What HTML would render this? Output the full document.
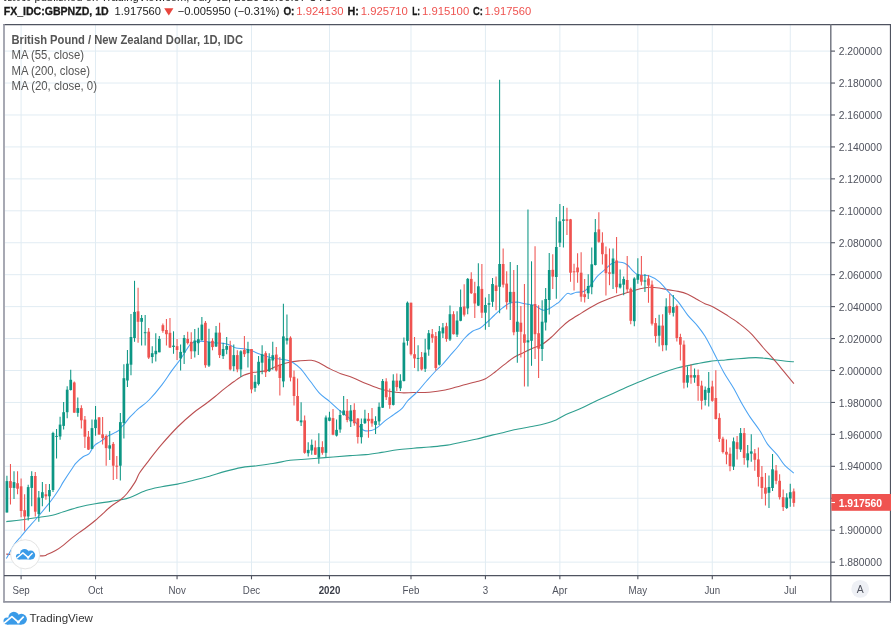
<!DOCTYPE html>
<html><head><meta charset="utf-8"><title>GBPNZD chart</title>
<style>
html,body{margin:0;padding:0;background:#fff;}
body{width:891px;height:630px;overflow:hidden;position:relative;font-family:"Liberation Sans",sans-serif;}
svg{position:absolute;left:0;top:0;}
text{font-family:"Liberation Sans",sans-serif;}
</style></head><body>
<svg width="891" height="630" viewBox="0 0 891 630">

<text x="3.5" y="1.2" font-size="11" fill="#222" textLength="27.5" lengthAdjust="spacingAndGlyphs">JLeeCo</text>
<text x="34.6" y="1.2" font-size="11" fill="#222" textLength="297.5" lengthAdjust="spacingAndGlyphs">published on TradingView.com, July 02, 2020 15:00:07 UTC</text>
<g font-size="11">
<text x="3.7" y="15.3" font-weight="bold" stroke="#1a1a1a" stroke-width="0.3" fill="#1a1a1a" textLength="105.0" lengthAdjust="spacingAndGlyphs">FX_IDC:GBPNZD, 1D</text>
<text x="114.5" y="15.3" fill="#1a1a1a" textLength="46.5" lengthAdjust="spacingAndGlyphs">1.917560</text>
<text x="177.8" y="15.3" fill="#1a1a1a" textLength="101.7" lengthAdjust="spacingAndGlyphs">−0.005950 (−0.31%)</text>
<text x="283.4" y="15.3" font-weight="bold" stroke="#1a1a1a" stroke-width="0.3" fill="#1a1a1a" textLength="11.0" lengthAdjust="spacingAndGlyphs">O:</text>
<text x="296.3" y="15.3" fill="#ef5350" textLength="47.2" lengthAdjust="spacingAndGlyphs">1.924130</text>
<text x="347.4" y="15.3" font-weight="bold" stroke="#1a1a1a" stroke-width="0.3" fill="#1a1a1a" textLength="11.4" lengthAdjust="spacingAndGlyphs">H:</text>
<text x="360.8" y="15.3" fill="#ef5350" textLength="47.1" lengthAdjust="spacingAndGlyphs">1.925710</text>
<text x="412.2" y="15.3" font-weight="bold" stroke="#1a1a1a" stroke-width="0.3" fill="#1a1a1a" textLength="7.8" lengthAdjust="spacingAndGlyphs">L:</text>
<text x="422" y="15.3" fill="#ef5350" textLength="47.2" lengthAdjust="spacingAndGlyphs">1.915100</text>
<text x="473.1" y="15.3" font-weight="bold" stroke="#1a1a1a" stroke-width="0.3" fill="#1a1a1a" textLength="9.9" lengthAdjust="spacingAndGlyphs">C:</text>
<text x="484.5" y="15.3" fill="#ef5350" textLength="46.7" lengthAdjust="spacingAndGlyphs">1.917560</text>
<path d="M164.2,8.2 L173.4,8.2 L168.8,15.6 Z" fill="#e8453c"/>
</g>
<g stroke="#e1ecf3" stroke-width="1">
<line x1="21.10" y1="25" x2="21.10" y2="575"/>
<line x1="95.53" y1="25" x2="95.53" y2="575"/>
<line x1="177.06" y1="25" x2="177.06" y2="575"/>
<line x1="251.49" y1="25" x2="251.49" y2="575"/>
<line x1="329.47" y1="25" x2="329.47" y2="575"/>
<line x1="410.99" y1="25" x2="410.99" y2="575"/>
<line x1="485.43" y1="25" x2="485.43" y2="575"/>
<line x1="559.86" y1="25" x2="559.86" y2="575"/>
<line x1="637.84" y1="25" x2="637.84" y2="575"/>
<line x1="712.28" y1="25" x2="712.28" y2="575"/>
<line x1="790.25" y1="25" x2="790.25" y2="575"/>
<line x1="5" y1="51.10" x2="831" y2="51.10"/>
<line x1="5" y1="83.04" x2="831" y2="83.04"/>
<line x1="5" y1="114.98" x2="831" y2="114.98"/>
<line x1="5" y1="146.92" x2="831" y2="146.92"/>
<line x1="5" y1="178.86" x2="831" y2="178.86"/>
<line x1="5" y1="210.80" x2="831" y2="210.80"/>
<line x1="5" y1="242.74" x2="831" y2="242.74"/>
<line x1="5" y1="274.68" x2="831" y2="274.68"/>
<line x1="5" y1="306.62" x2="831" y2="306.62"/>
<line x1="5" y1="338.56" x2="831" y2="338.56"/>
<line x1="5" y1="370.50" x2="831" y2="370.50"/>
<line x1="5" y1="402.44" x2="831" y2="402.44"/>
<line x1="5" y1="434.38" x2="831" y2="434.38"/>
<line x1="5" y1="466.32" x2="831" y2="466.32"/>
<line x1="5" y1="498.26" x2="831" y2="498.26"/>
<line x1="5" y1="530.20" x2="831" y2="530.20"/>
<line x1="5" y1="562.14" x2="831" y2="562.14"/>
</g>
<path d="M6.3,521.6C8.7,521.3 15.0,520.7 20.6,520.0C26.2,519.3 34.4,518.1 39.7,517.3C45.0,516.5 48.4,516.1 52.4,515.2C56.4,514.3 59.0,513.1 63.5,511.7C68.0,510.3 74.1,508.3 79.4,507.0C84.7,505.7 89.9,504.7 95.2,503.8C100.5,502.9 106.8,502.1 111.0,501.4C115.2,500.7 117.4,500.4 120.6,499.8C123.8,499.2 125.8,499.1 130.0,497.5C134.2,495.9 140.6,492.3 145.9,490.5C151.2,488.7 156.4,487.8 161.7,486.7C167.0,485.6 172.3,485.2 177.6,484.1C182.9,483.0 188.2,481.6 193.5,480.3C198.8,479.0 204.1,477.7 209.4,476.2C214.7,474.7 219.9,472.8 225.2,471.4C230.5,470.0 235.8,468.6 241.1,467.6C246.4,466.7 251.7,466.4 257.0,465.7C262.3,465.0 267.4,464.4 272.9,463.5C278.4,462.6 285.4,461.0 290.0,460.3C294.6,459.6 296.8,459.8 300.8,459.5C304.8,459.2 308.7,458.9 314.1,458.5C319.5,458.1 327.2,457.5 333.2,457.0C339.2,456.5 344.6,456.0 350.0,455.6C355.4,455.2 360.6,455.1 365.9,454.6C371.2,454.1 376.4,453.2 381.7,452.4C387.0,451.6 392.3,450.5 397.6,449.8C402.9,449.1 408.2,448.8 413.5,448.3C418.8,447.8 424.1,447.5 429.4,447.0C434.7,446.5 439.9,446.2 445.2,445.4C450.5,444.6 455.8,443.3 461.1,442.2C466.4,441.1 471.7,440.2 477.0,439.0C482.3,437.8 488.3,436.0 492.9,434.9C497.5,433.8 501.1,433.1 504.6,432.3C508.1,431.5 509.3,430.8 514.1,429.8C518.9,428.8 528.1,427.2 533.2,426.2C538.3,425.2 540.8,424.8 544.6,423.7C548.4,422.6 552.5,421.4 556.1,419.9C559.7,418.4 561.7,416.6 566.0,414.6C570.3,412.6 576.4,410.5 581.7,408.1C587.0,405.7 592.3,402.7 597.6,400.2C602.9,397.7 608.2,395.6 613.5,393.2C618.8,390.8 624.1,388.2 629.4,385.9C634.7,383.6 639.9,381.6 645.2,379.5C650.5,377.4 655.8,375.1 661.1,373.2C666.4,371.3 672.6,369.3 677.0,368.0C681.4,366.7 684.3,366.3 687.7,365.6C691.1,364.9 693.6,364.3 697.3,363.6C701.0,362.9 705.3,362.0 710.0,361.4C714.7,360.8 720.7,360.4 725.4,360.0C730.1,359.6 733.0,359.1 738.1,358.7C743.2,358.3 751.2,357.7 755.9,357.6C760.5,357.6 762.6,358.0 766.0,358.4C769.4,358.8 772.8,359.5 776.2,360.0C779.6,360.5 783.3,360.9 786.3,361.2C789.2,361.5 792.6,361.7 793.9,361.8" fill="none" stroke="#2f9f8f" stroke-width="1.1" stroke-linejoin="round"/><path d="M6.3,554.1C12.0,554.4 33.6,555.9 40.5,555.9C47.4,555.9 45.1,555.2 47.6,554.3C50.1,553.4 53.0,552.1 55.6,550.6C58.2,549.1 60.9,547.1 63.5,545.1C66.1,543.1 68.8,540.5 71.4,538.4C74.1,536.3 76.8,534.3 79.4,532.4C82.1,530.5 84.7,528.8 87.3,526.8C89.9,524.8 92.5,522.8 95.2,520.5C97.9,518.2 100.6,515.7 103.2,513.3C105.8,510.9 108.2,508.4 111.1,506.2C114.0,503.9 117.9,501.9 120.6,499.8C123.2,497.7 124.6,496.4 127.0,493.5C129.4,490.6 132.8,485.8 134.9,482.4C137.0,479.0 137.2,476.7 139.5,473.0C141.8,469.3 145.3,465.1 149.0,460.3C152.7,455.5 156.9,449.9 161.7,444.4C166.5,438.8 172.3,432.3 177.6,427.0C182.9,421.7 188.8,416.5 193.5,412.7C198.2,408.9 201.9,406.7 205.5,404.0C209.1,401.3 211.9,399.1 215.1,396.5C218.3,393.9 221.4,391.1 224.6,388.6C227.8,386.1 230.9,383.7 234.1,381.5C237.3,379.3 240.9,376.7 243.7,375.3C246.4,373.9 248.4,373.6 250.6,373.0C252.8,372.4 254.3,372.4 257.0,372.0C259.7,371.6 263.4,371.5 266.6,370.6C269.8,369.7 272.5,367.8 276.0,366.5C279.5,365.2 283.6,363.7 287.4,362.8C291.2,361.9 294.9,361.3 298.9,360.9C302.9,360.5 307.8,359.9 311.3,360.3C314.8,360.7 316.9,361.8 319.9,363.2C322.9,364.6 325.9,366.8 329.4,368.5C332.9,370.2 337.0,372.2 340.8,373.7C344.6,375.2 348.1,375.9 352.3,377.5C356.5,379.1 361.5,381.8 365.9,383.6C370.3,385.4 374.8,387.2 378.9,388.5C383.0,389.8 386.5,390.8 390.3,391.5C394.1,392.2 397.9,392.6 401.8,392.8C405.7,393.0 408.9,392.6 413.5,392.5C418.1,392.4 424.1,392.6 429.4,392.2C434.7,391.8 439.9,391.1 445.2,390.0C450.5,388.9 455.8,387.1 461.1,385.7C466.4,384.3 472.9,382.7 477.0,381.5C481.1,380.3 482.5,380.3 485.5,378.7C488.5,377.1 491.9,374.4 495.1,372.0C498.3,369.6 501.4,366.8 504.6,364.4C507.8,361.9 510.9,359.3 514.1,357.3C517.3,355.3 520.5,354.1 523.7,352.5C526.9,350.9 530.0,349.4 533.2,348.0C536.4,346.6 539.5,345.9 542.7,344.0C545.9,342.1 549.4,338.9 552.3,336.3C555.2,333.8 557.1,331.3 559.9,328.7C562.7,326.1 565.4,323.4 569.0,320.8C572.6,318.2 576.9,315.8 581.7,312.9C586.5,310.0 592.3,306.1 597.6,303.5C602.9,300.9 608.2,298.9 613.5,297.0C618.8,295.1 625.0,293.4 629.4,292.0C633.8,290.6 636.7,289.6 640.1,288.8C643.5,288.0 646.4,287.4 649.6,287.3C652.8,287.2 655.9,287.6 659.1,288.0C662.3,288.4 665.5,289.3 668.7,289.9C671.9,290.5 675.0,290.7 678.2,291.4C681.4,292.1 684.5,292.9 687.7,294.3C690.9,295.7 694.4,297.9 697.3,299.5C700.2,301.1 702.3,302.5 704.9,303.7C707.5,304.9 709.3,304.9 712.7,306.7C716.1,308.5 721.2,311.6 725.4,314.3C729.6,317.0 733.9,319.5 738.1,322.7C742.3,325.9 746.6,329.1 750.8,333.3C755.0,337.5 759.7,343.7 763.5,348.0C767.3,352.3 770.2,355.3 773.6,359.2C777.0,363.1 780.4,367.3 783.8,371.4C787.2,375.5 792.2,381.6 793.9,383.6" fill="none" stroke="#bb4f51" stroke-width="1.1" stroke-linejoin="round"/><path d="M6.3,558.6C7.6,556.3 11.8,548.4 14.3,544.6C16.8,540.8 19.0,538.9 21.4,536.0C23.8,533.1 25.7,530.7 28.6,527.4C31.5,524.1 35.3,519.9 38.6,516.0C41.9,512.1 46.0,507.1 48.6,503.9C51.2,500.7 52.1,499.4 54.0,496.7C55.9,494.0 58.4,490.2 60.0,487.7C61.6,485.2 61.3,485.0 63.5,481.6C65.7,478.2 70.9,470.4 73.0,467.3C75.1,464.2 74.3,464.9 76.0,463.1C77.7,461.3 80.9,458.2 83.1,456.7C85.2,455.2 87.5,455.1 88.9,453.9C90.3,452.7 90.8,451.0 91.7,449.6C92.7,448.2 93.4,446.5 94.6,445.3C95.8,444.1 97.6,443.2 98.9,442.4C100.2,441.6 101.1,441.2 102.4,440.3C103.7,439.4 105.4,437.6 106.7,436.7C108.0,435.8 108.9,435.6 110.3,434.9C111.7,434.2 113.9,433.2 115.3,432.4C116.7,431.6 117.8,431.2 118.9,430.3C120.0,429.4 120.8,427.8 121.7,426.7C122.7,425.6 123.2,425.6 124.6,423.9C126.0,422.2 128.4,418.8 130.3,416.7C132.2,414.6 134.5,412.5 136.0,411.0C137.5,409.5 137.3,409.7 139.5,407.9C141.7,406.1 145.3,403.8 149.0,400.0C152.7,396.2 158.0,389.9 161.7,385.1C165.4,380.3 168.1,375.8 171.3,371.4C174.5,367.0 177.6,363.2 180.8,358.7C184.0,354.2 187.7,347.3 190.3,344.4C193.0,341.5 194.2,341.8 196.7,341.3C199.1,340.8 201.8,341.2 205.0,341.5C208.2,341.8 212.8,342.6 215.7,342.9C218.6,343.2 220.3,342.9 222.7,343.3C225.1,343.7 228.1,344.4 230.3,345.2C232.5,346.0 233.4,347.3 236.0,347.9C238.6,348.5 242.7,348.4 245.6,349.0C248.5,349.6 251.0,350.5 253.2,351.3C255.4,352.1 256.3,352.9 258.9,353.8C261.4,354.8 265.6,356.2 268.5,357.0C271.4,357.8 273.0,357.9 276.1,358.5C279.2,359.1 284.5,359.6 287.4,360.3C290.2,361.0 291.0,361.4 293.2,362.8C295.4,364.2 297.9,365.8 300.8,368.9C303.7,372.0 307.1,377.2 310.3,381.3C313.5,385.4 316.7,390.4 319.9,393.7C323.1,397.0 326.2,398.6 329.4,401.3C332.6,404.0 335.7,407.2 338.9,409.9C342.1,412.6 345.6,415.3 348.5,417.5C351.4,419.7 353.6,420.9 356.1,423.0C358.6,425.1 361.1,428.9 363.6,430.2C366.1,431.5 369.1,431.0 371.3,430.6C373.5,430.2 374.8,429.3 377.0,427.7C379.2,426.1 381.8,423.3 384.6,421.1C387.5,418.9 391.2,416.5 394.1,414.4C397.0,412.3 399.6,410.9 401.8,408.7C404.0,406.5 405.0,403.8 407.5,401.0C410.0,398.2 413.8,395.4 417.0,392.1C420.2,388.8 423.4,384.6 426.6,381.0C429.8,377.4 433.5,373.2 436.1,370.5C438.7,367.8 439.8,367.4 442.0,365.0C444.2,362.6 447.1,359.0 449.6,356.1C452.1,353.2 454.7,350.5 457.2,347.5C459.7,344.5 462.2,340.7 464.8,338.0C467.4,335.3 469.9,333.0 472.5,331.3C475.1,329.6 477.9,329.5 480.3,328.0C482.7,326.5 484.3,324.7 486.7,322.5C489.1,320.3 492.0,317.4 494.6,315.0C497.2,312.6 500.2,309.8 502.6,307.9C505.0,306.0 506.5,304.5 508.9,303.5C511.3,302.5 514.2,302.1 516.9,302.1C519.5,302.2 521.9,303.3 524.8,303.8C527.7,304.3 531.4,304.2 534.3,305.2C537.2,306.2 539.9,309.4 542.3,310.0C544.7,310.6 546.3,310.0 548.6,309.0C550.9,308.0 554.3,305.3 556.1,304.1C557.9,302.9 557.5,303.6 559.3,301.8C561.1,300.1 565.1,294.9 567.0,293.6C568.9,292.3 569.2,294.4 570.8,294.2C572.4,294.0 574.3,292.8 576.5,292.3C578.7,291.8 581.6,292.7 584.1,291.3C586.6,289.9 589.6,286.2 591.8,283.7C594.0,281.2 595.3,278.5 597.5,276.1C599.7,273.7 602.6,271.6 605.1,269.4C607.6,267.2 609.8,264.3 612.7,263.1C615.6,261.9 619.8,262.0 622.3,262.4C624.8,262.8 626.3,264.2 628.0,265.5C629.7,266.8 630.7,268.8 632.4,270.3C634.1,271.8 635.3,273.8 638.2,274.7C641.1,275.6 646.1,274.8 649.6,276.0C653.1,277.2 655.9,279.0 659.1,281.7C662.3,284.4 665.5,288.8 668.7,292.2C671.9,295.6 675.0,298.0 678.2,301.8C681.4,305.6 684.5,311.1 687.7,315.1C690.9,319.1 694.4,322.1 697.3,325.6C700.2,329.1 702.1,331.5 704.9,336.1C707.7,340.7 711.0,347.2 714.1,353.2C717.2,359.2 720.5,366.5 723.7,372.2C726.9,377.9 730.0,382.0 733.2,387.5C736.4,393.0 739.9,400.0 742.7,405.0C745.6,410.0 747.4,413.1 750.3,417.4C753.2,421.7 757.0,426.4 759.9,430.8C762.8,435.2 764.6,440.1 767.5,444.1C770.4,448.1 774.1,451.1 777.0,454.6C779.9,458.1 781.8,462.0 784.6,465.1C787.4,468.2 792.3,471.8 793.8,473.1" fill="none" stroke="#4ba3f3" stroke-width="1.05" stroke-linejoin="round"/>
<g>
<path d="M6.92,475.7V512.5" stroke="#0c9684" stroke-width="1.05"/><rect x="5.57" y="481.1" width="2.7" height="31.4" fill="#0c9684"/>
<path d="M10.46,464.1V504.6" stroke="#ef5350" stroke-width="1.05"/><rect x="9.11" y="481.1" width="2.7" height="6.8" fill="#ef5350"/>
<path d="M14.01,471.3V499.0" stroke="#0c9684" stroke-width="1.05"/><rect x="12.66" y="482.1" width="2.7" height="5.8" fill="#0c9684"/>
<path d="M17.55,471.3V494.3" stroke="#ef5350" stroke-width="1.05"/><rect x="16.20" y="483.2" width="2.7" height="5.5" fill="#ef5350"/>
<path d="M21.10,478.4V517.3" stroke="#ef5350" stroke-width="1.05"/><rect x="19.75" y="486.3" width="2.7" height="24.7" fill="#ef5350"/>
<path d="M24.64,494.3V530.8" stroke="#ef5350" stroke-width="1.05"/><rect x="23.29" y="510.2" width="2.7" height="6.3" fill="#ef5350"/>
<path d="M28.19,484.8V520.5" stroke="#0c9684" stroke-width="1.05"/><rect x="26.84" y="487.1" width="2.7" height="29.4" fill="#0c9684"/>
<path d="M31.73,471.3V506.2" stroke="#0c9684" stroke-width="1.05"/><rect x="30.38" y="476.0" width="2.7" height="11.9" fill="#0c9684"/>
<path d="M35.28,472.1V516.5" stroke="#ef5350" stroke-width="1.05"/><rect x="33.93" y="476.0" width="2.7" height="35.7" fill="#ef5350"/>
<path d="M38.82,491.1V521.7" stroke="#0c9684" stroke-width="1.05"/><rect x="37.47" y="497.5" width="2.7" height="16.6" fill="#0c9684"/>
<path d="M42.37,482.1V506.2" stroke="#0c9684" stroke-width="1.05"/><rect x="41.02" y="492.2" width="2.7" height="5.7" fill="#0c9684"/>
<path d="M45.91,484.0V499.8" stroke="#ef5350" stroke-width="1.05"/><rect x="44.56" y="494.3" width="2.7" height="2.0" fill="#ef5350"/>
<path d="M49.45,484.0V511.7" stroke="#0c9684" stroke-width="1.05"/><rect x="48.10" y="490.0" width="2.7" height="6.3" fill="#0c9684"/>
<path d="M53.00,431.7V492.0" stroke="#0c9684" stroke-width="1.05"/><rect x="51.65" y="433.0" width="2.7" height="57.0" fill="#0c9684"/>
<path d="M56.54,428.9V458.6" stroke="#0c9684" stroke-width="1.05"/><rect x="55.19" y="435.9" width="2.7" height="1.0" fill="#0c9684"/>
<path d="M60.09,416.7V439.7" stroke="#0c9684" stroke-width="1.05"/><rect x="58.74" y="424.6" width="2.7" height="11.9" fill="#0c9684"/>
<path d="M63.63,402.0V429.4" stroke="#0c9684" stroke-width="1.05"/><rect x="62.28" y="412.2" width="2.7" height="13.7" fill="#0c9684"/>
<path d="M67.18,386.2V418.3" stroke="#0c9684" stroke-width="1.05"/><rect x="65.83" y="389.7" width="2.7" height="22.5" fill="#0c9684"/>
<path d="M70.72,369.8V390.5" stroke="#0c9684" stroke-width="1.05"/><rect x="69.37" y="379.8" width="2.7" height="10.2" fill="#0c9684"/>
<path d="M74.27,381.4V412.7" stroke="#ef5350" stroke-width="1.05"/><rect x="72.92" y="382.5" width="2.7" height="30.2" fill="#ef5350"/>
<path d="M77.81,397.4V416.7" stroke="#0c9684" stroke-width="1.05"/><rect x="76.46" y="408.1" width="2.7" height="4.8" fill="#0c9684"/>
<path d="M81.35,405.3V428.6" stroke="#ef5350" stroke-width="1.05"/><rect x="80.00" y="408.1" width="2.7" height="12.2" fill="#ef5350"/>
<path d="M84.90,416.0V448.1" stroke="#ef5350" stroke-width="1.05"/><rect x="83.55" y="419.6" width="2.7" height="17.1" fill="#ef5350"/>
<path d="M88.44,431.0V450.0" stroke="#ef5350" stroke-width="1.05"/><rect x="87.09" y="436.7" width="2.7" height="12.9" fill="#ef5350"/>
<path d="M91.99,419.6V449.1" stroke="#0c9684" stroke-width="1.05"/><rect x="90.64" y="428.1" width="2.7" height="20.8" fill="#0c9684"/>
<path d="M95.53,406.0V435.7" stroke="#0c9684" stroke-width="1.05"/><rect x="94.18" y="419.6" width="2.7" height="8.5" fill="#0c9684"/>
<path d="M99.08,417.1V434.6" stroke="#ef5350" stroke-width="1.05"/><rect x="97.73" y="417.4" width="2.7" height="17.2" fill="#ef5350"/>
<path d="M102.62,417.1V444.6" stroke="#ef5350" stroke-width="1.05"/><rect x="101.27" y="434.3" width="2.7" height="3.8" fill="#ef5350"/>
<path d="M106.17,434.6V465.7" stroke="#ef5350" stroke-width="1.05"/><rect x="104.82" y="436.0" width="2.7" height="12.1" fill="#ef5350"/>
<path d="M109.71,431.0V460.0" stroke="#0c9684" stroke-width="1.05"/><rect x="108.36" y="445.3" width="2.7" height="3.3" fill="#0c9684"/>
<path d="M113.26,442.0V480.0" stroke="#ef5350" stroke-width="1.05"/><rect x="111.91" y="443.9" width="2.7" height="21.8" fill="#ef5350"/>
<path d="M116.80,456.0V478.9" stroke="#ef5350" stroke-width="1.05"/><rect x="115.45" y="465.7" width="2.7" height="1.0" fill="#ef5350"/>
<path d="M120.34,413.1V480.6" stroke="#0c9684" stroke-width="1.05"/><rect x="118.99" y="422.1" width="2.7" height="43.6" fill="#0c9684"/>
<path d="M123.89,364.2V438.4" stroke="#0c9684" stroke-width="1.05"/><rect x="122.54" y="378.2" width="2.7" height="44.9" fill="#0c9684"/>
<path d="M127.43,350.0V387.0" stroke="#0c9684" stroke-width="1.05"/><rect x="126.08" y="363.7" width="2.7" height="16.8" fill="#0c9684"/>
<path d="M130.98,314.1V375.2" stroke="#0c9684" stroke-width="1.05"/><rect x="129.63" y="337.0" width="2.7" height="27.7" fill="#0c9684"/>
<path d="M134.52,280.8V341.8" stroke="#0c9684" stroke-width="1.05"/><rect x="133.17" y="311.9" width="2.7" height="26.1" fill="#0c9684"/>
<path d="M138.07,287.8V342.7" stroke="#ef5350" stroke-width="1.05"/><rect x="136.72" y="311.3" width="2.7" height="10.5" fill="#ef5350"/>
<path d="M141.61,315.1V345.6" stroke="#0c9684" stroke-width="1.05"/><rect x="140.26" y="318.0" width="2.7" height="3.8" fill="#0c9684"/>
<path d="M145.16,315.1V345.6" stroke="#0c9684" stroke-width="1.05"/><rect x="143.81" y="332.2" width="2.7" height="1.0" fill="#0c9684"/>
<path d="M148.70,327.9V359.0" stroke="#ef5350" stroke-width="1.05"/><rect x="147.35" y="331.7" width="2.7" height="25.9" fill="#ef5350"/>
<path d="M152.24,346.2V363.3" stroke="#0c9684" stroke-width="1.05"/><rect x="150.89" y="353.2" width="2.7" height="3.8" fill="#0c9684"/>
<path d="M155.79,333.2V361.4" stroke="#0c9684" stroke-width="1.05"/><rect x="154.44" y="350.8" width="2.7" height="3.4" fill="#0c9684"/>
<path d="M159.33,336.1V352.3" stroke="#0c9684" stroke-width="1.05"/><rect x="157.98" y="338.9" width="2.7" height="13.4" fill="#0c9684"/>
<path d="M162.88,323.6V332.7" stroke="#ef5350" stroke-width="1.05"/><rect x="161.53" y="325.2" width="2.7" height="5.7" fill="#ef5350"/>
<path d="M166.42,318.9V345.6" stroke="#ef5350" stroke-width="1.05"/><rect x="165.07" y="330.0" width="2.7" height="4.2" fill="#ef5350"/>
<path d="M169.97,318.0V348.0" stroke="#ef5350" stroke-width="1.05"/><rect x="168.62" y="332.8" width="2.7" height="14.7" fill="#ef5350"/>
<path d="M173.51,331.3V353.8" stroke="#0c9684" stroke-width="1.05"/><rect x="172.16" y="345.6" width="2.7" height="1.4" fill="#0c9684"/>
<path d="M177.06,338.9V359.9" stroke="#ef5350" stroke-width="1.05"/><rect x="175.71" y="346.2" width="2.7" height="3.8" fill="#ef5350"/>
<path d="M180.60,344.6V370.4" stroke="#0c9684" stroke-width="1.05"/><rect x="179.25" y="351.9" width="2.7" height="6.5" fill="#0c9684"/>
<path d="M184.15,335.1V364.1" stroke="#0c9684" stroke-width="1.05"/><rect x="182.80" y="338.0" width="2.7" height="14.7" fill="#0c9684"/>
<path d="M187.69,331.7V344.6" stroke="#ef5350" stroke-width="1.05"/><rect x="186.34" y="338.9" width="2.7" height="4.2" fill="#ef5350"/>
<path d="M191.23,332.3V359.0" stroke="#ef5350" stroke-width="1.05"/><rect x="189.88" y="341.8" width="2.7" height="9.5" fill="#ef5350"/>
<path d="M194.78,329.0V357.6" stroke="#0c9684" stroke-width="1.05"/><rect x="193.43" y="340.5" width="2.7" height="10.8" fill="#0c9684"/>
<path d="M198.32,327.8V355.1" stroke="#0c9684" stroke-width="1.05"/><rect x="196.97" y="339.2" width="2.7" height="4.0" fill="#0c9684"/>
<path d="M201.87,317.0V340.8" stroke="#0c9684" stroke-width="1.05"/><rect x="200.52" y="324.6" width="2.7" height="15.4" fill="#0c9684"/>
<path d="M205.41,321.0V367.8" stroke="#ef5350" stroke-width="1.05"/><rect x="204.06" y="322.8" width="2.7" height="42.4" fill="#ef5350"/>
<path d="M208.96,328.8V366.9" stroke="#0c9684" stroke-width="1.05"/><rect x="207.61" y="341.8" width="2.7" height="23.8" fill="#0c9684"/>
<path d="M212.50,338.3V350.3" stroke="#ef5350" stroke-width="1.05"/><rect x="211.15" y="340.8" width="2.7" height="6.3" fill="#ef5350"/>
<path d="M216.05,326.1V347.1" stroke="#0c9684" stroke-width="1.05"/><rect x="214.70" y="332.6" width="2.7" height="13.9" fill="#0c9684"/>
<path d="M219.59,322.7V358.0" stroke="#ef5350" stroke-width="1.05"/><rect x="218.24" y="332.6" width="2.7" height="22.5" fill="#ef5350"/>
<path d="M223.13,342.7V358.9" stroke="#0c9684" stroke-width="1.05"/><rect x="221.78" y="349.0" width="2.7" height="7.1" fill="#0c9684"/>
<path d="M226.68,337.0V354.2" stroke="#0c9684" stroke-width="1.05"/><rect x="225.33" y="346.0" width="2.7" height="3.8" fill="#0c9684"/>
<path d="M230.22,340.8V370.4" stroke="#ef5350" stroke-width="1.05"/><rect x="228.87" y="346.0" width="2.7" height="23.4" fill="#ef5350"/>
<path d="M233.77,344.6V371.3" stroke="#0c9684" stroke-width="1.05"/><rect x="232.42" y="355.1" width="2.7" height="11.1" fill="#0c9684"/>
<path d="M237.31,350.3V372.3" stroke="#ef5350" stroke-width="1.05"/><rect x="235.96" y="355.1" width="2.7" height="14.3" fill="#ef5350"/>
<path d="M240.86,350.3V377.0" stroke="#0c9684" stroke-width="1.05"/><rect x="239.51" y="351.3" width="2.7" height="18.1" fill="#0c9684"/>
<path d="M244.40,336.0V357.0" stroke="#ef5350" stroke-width="1.05"/><rect x="243.05" y="349.8" width="2.7" height="4.4" fill="#ef5350"/>
<path d="M247.95,341.8V367.5" stroke="#0c9684" stroke-width="1.05"/><rect x="246.60" y="349.0" width="2.7" height="4.2" fill="#0c9684"/>
<path d="M251.49,349.0V393.3" stroke="#ef5350" stroke-width="1.05"/><rect x="250.14" y="349.0" width="2.7" height="40.4" fill="#ef5350"/>
<path d="M255.03,375.1V391.7" stroke="#0c9684" stroke-width="1.05"/><rect x="253.69" y="381.8" width="2.7" height="6.1" fill="#0c9684"/>
<path d="M258.58,356.1V385.6" stroke="#0c9684" stroke-width="1.05"/><rect x="257.23" y="361.8" width="2.7" height="22.3" fill="#0c9684"/>
<path d="M262.12,345.2V374.2" stroke="#0c9684" stroke-width="1.05"/><rect x="260.77" y="354.2" width="2.7" height="8.5" fill="#0c9684"/>
<path d="M265.67,351.3V377.0" stroke="#ef5350" stroke-width="1.05"/><rect x="264.32" y="353.2" width="2.7" height="19.1" fill="#ef5350"/>
<path d="M269.21,353.2V371.9" stroke="#0c9684" stroke-width="1.05"/><rect x="267.86" y="358.5" width="2.7" height="12.7" fill="#0c9684"/>
<path d="M272.76,341.7V369.8" stroke="#0c9684" stroke-width="1.05"/><rect x="271.41" y="355.2" width="2.7" height="5.3" fill="#0c9684"/>
<path d="M276.30,347.1V371.4" stroke="#ef5350" stroke-width="1.05"/><rect x="274.95" y="354.6" width="2.7" height="15.9" fill="#ef5350"/>
<path d="M279.85,357.0V395.5" stroke="#ef5350" stroke-width="1.05"/><rect x="278.50" y="364.5" width="2.7" height="13.5" fill="#ef5350"/>
<path d="M283.39,303.7V387.2" stroke="#0c9684" stroke-width="1.05"/><rect x="282.04" y="336.4" width="2.7" height="45.0" fill="#0c9684"/>
<path d="M286.94,314.6V344.6" stroke="#0c9684" stroke-width="1.05"/><rect x="285.59" y="338.1" width="2.7" height="2.5" fill="#0c9684"/>
<path d="M290.48,336.3V381.4" stroke="#ef5350" stroke-width="1.05"/><rect x="289.13" y="337.7" width="2.7" height="39.9" fill="#ef5350"/>
<path d="M294.02,370.4V405.5" stroke="#ef5350" stroke-width="1.05"/><rect x="292.67" y="376.8" width="2.7" height="19.2" fill="#ef5350"/>
<path d="M297.57,378.4V421.3" stroke="#ef5350" stroke-width="1.05"/><rect x="296.22" y="396.0" width="2.7" height="24.8" fill="#ef5350"/>
<path d="M301.11,402.3V426.1" stroke="#0c9684" stroke-width="1.05"/><rect x="299.76" y="420.4" width="2.7" height="1.9" fill="#0c9684"/>
<path d="M304.66,415.6V453.7" stroke="#ef5350" stroke-width="1.05"/><rect x="303.31" y="420.4" width="2.7" height="32.4" fill="#ef5350"/>
<path d="M308.20,442.3V456.6" stroke="#0c9684" stroke-width="1.05"/><rect x="306.85" y="449.9" width="2.7" height="3.3" fill="#0c9684"/>
<path d="M311.75,439.4V454.7" stroke="#0c9684" stroke-width="1.05"/><rect x="310.40" y="444.8" width="2.7" height="5.7" fill="#0c9684"/>
<path d="M315.29,440.4V455.1" stroke="#ef5350" stroke-width="1.05"/><rect x="313.94" y="447.4" width="2.7" height="7.3" fill="#ef5350"/>
<path d="M318.84,433.3V463.8" stroke="#0c9684" stroke-width="1.05"/><rect x="317.49" y="447.1" width="2.7" height="10.5" fill="#0c9684"/>
<path d="M322.38,441.3V454.7" stroke="#ef5350" stroke-width="1.05"/><rect x="321.03" y="447.1" width="2.7" height="5.7" fill="#ef5350"/>
<path d="M325.93,415.6V457.0" stroke="#0c9684" stroke-width="1.05"/><rect x="324.57" y="417.5" width="2.7" height="35.3" fill="#0c9684"/>
<path d="M329.47,411.8V421.3" stroke="#0c9684" stroke-width="1.05"/><rect x="328.12" y="417.5" width="2.7" height="3.3" fill="#0c9684"/>
<path d="M333.01,408.9V435.2" stroke="#ef5350" stroke-width="1.05"/><rect x="331.66" y="418.1" width="2.7" height="16.6" fill="#ef5350"/>
<path d="M336.56,419.4V436.6" stroke="#0c9684" stroke-width="1.05"/><rect x="335.21" y="429.9" width="2.7" height="5.7" fill="#0c9684"/>
<path d="M340.10,409.9V432.8" stroke="#0c9684" stroke-width="1.05"/><rect x="338.75" y="415.0" width="2.7" height="14.5" fill="#0c9684"/>
<path d="M343.65,396.0V415.6" stroke="#0c9684" stroke-width="1.05"/><rect x="342.30" y="410.5" width="2.7" height="4.5" fill="#0c9684"/>
<path d="M347.19,399.0V422.3" stroke="#ef5350" stroke-width="1.05"/><rect x="345.84" y="410.8" width="2.7" height="9.2" fill="#ef5350"/>
<path d="M350.74,405.1V427.0" stroke="#0c9684" stroke-width="1.05"/><rect x="349.39" y="410.5" width="2.7" height="10.8" fill="#0c9684"/>
<path d="M354.28,403.2V425.7" stroke="#ef5350" stroke-width="1.05"/><rect x="352.93" y="409.9" width="2.7" height="13.3" fill="#ef5350"/>
<path d="M357.83,418.1V443.6" stroke="#ef5350" stroke-width="1.05"/><rect x="356.48" y="418.6" width="2.7" height="18.4" fill="#ef5350"/>
<path d="M361.37,418.5V443.6" stroke="#0c9684" stroke-width="1.05"/><rect x="360.02" y="424.0" width="2.7" height="13.2" fill="#0c9684"/>
<path d="M364.91,409.7V424.0" stroke="#0c9684" stroke-width="1.05"/><rect x="363.56" y="418.6" width="2.7" height="4.5" fill="#0c9684"/>
<path d="M368.46,413.1V437.8" stroke="#ef5350" stroke-width="1.05"/><rect x="367.11" y="418.8" width="2.7" height="2.3" fill="#ef5350"/>
<path d="M372.00,408.1V426.8" stroke="#ef5350" stroke-width="1.05"/><rect x="370.65" y="418.8" width="2.7" height="4.6" fill="#ef5350"/>
<path d="M375.55,416.3V434.0" stroke="#0c9684" stroke-width="1.05"/><rect x="374.20" y="421.1" width="2.7" height="3.8" fill="#0c9684"/>
<path d="M379.09,402.4V424.9" stroke="#0c9684" stroke-width="1.05"/><rect x="377.74" y="406.8" width="2.7" height="14.6" fill="#0c9684"/>
<path d="M382.64,379.1V408.1" stroke="#0c9684" stroke-width="1.05"/><rect x="381.29" y="381.0" width="2.7" height="26.7" fill="#0c9684"/>
<path d="M386.18,378.2V400.1" stroke="#ef5350" stroke-width="1.05"/><rect x="384.83" y="381.4" width="2.7" height="15.8" fill="#ef5350"/>
<path d="M389.73,388.6V408.7" stroke="#ef5350" stroke-width="1.05"/><rect x="388.38" y="397.2" width="2.7" height="7.7" fill="#ef5350"/>
<path d="M393.27,374.3V405.4" stroke="#0c9684" stroke-width="1.05"/><rect x="391.92" y="380.6" width="2.7" height="24.3" fill="#0c9684"/>
<path d="M396.82,373.4V390.9" stroke="#ef5350" stroke-width="1.05"/><rect x="395.47" y="380.6" width="2.7" height="6.5" fill="#ef5350"/>
<path d="M400.36,374.3V390.9" stroke="#0c9684" stroke-width="1.05"/><rect x="399.01" y="380.6" width="2.7" height="7.7" fill="#0c9684"/>
<path d="M403.90,337.6V381.4" stroke="#0c9684" stroke-width="1.05"/><rect x="402.55" y="342.6" width="2.7" height="38.4" fill="#0c9684"/>
<path d="M407.45,301.4V345.6" stroke="#0c9684" stroke-width="1.05"/><rect x="406.10" y="302.7" width="2.7" height="38.2" fill="#0c9684"/>
<path d="M410.99,302.7V355.5" stroke="#ef5350" stroke-width="1.05"/><rect x="409.64" y="302.7" width="2.7" height="51.5" fill="#ef5350"/>
<path d="M414.54,337.0V368.0" stroke="#ef5350" stroke-width="1.05"/><rect x="413.19" y="354.2" width="2.7" height="4.3" fill="#ef5350"/>
<path d="M418.08,345.2V371.2" stroke="#0c9684" stroke-width="1.05"/><rect x="416.73" y="357.9" width="2.7" height="1.0" fill="#0c9684"/>
<path d="M421.63,352.0V370.4" stroke="#ef5350" stroke-width="1.05"/><rect x="420.28" y="357.1" width="2.7" height="12.3" fill="#ef5350"/>
<path d="M425.17,338.8V371.9" stroke="#0c9684" stroke-width="1.05"/><rect x="423.82" y="352.6" width="2.7" height="16.2" fill="#0c9684"/>
<path d="M428.72,330.0V355.7" stroke="#0c9684" stroke-width="1.05"/><rect x="427.37" y="333.2" width="2.7" height="16.3" fill="#0c9684"/>
<path d="M432.26,329.0V342.8" stroke="#ef5350" stroke-width="1.05"/><rect x="430.91" y="334.2" width="2.7" height="3.6" fill="#ef5350"/>
<path d="M435.80,332.0V370.4" stroke="#ef5350" stroke-width="1.05"/><rect x="434.45" y="336.1" width="2.7" height="31.9" fill="#ef5350"/>
<path d="M439.35,326.0V365.5" stroke="#0c9684" stroke-width="1.05"/><rect x="438.00" y="331.2" width="2.7" height="33.5" fill="#0c9684"/>
<path d="M442.89,323.0V338.0" stroke="#0c9684" stroke-width="1.05"/><rect x="441.54" y="327.5" width="2.7" height="5.9" fill="#0c9684"/>
<path d="M446.44,322.7V341.8" stroke="#ef5350" stroke-width="1.05"/><rect x="445.09" y="326.2" width="2.7" height="12.8" fill="#ef5350"/>
<path d="M449.98,305.6V340.9" stroke="#0c9684" stroke-width="1.05"/><rect x="448.63" y="314.2" width="2.7" height="25.3" fill="#0c9684"/>
<path d="M453.53,311.3V334.6" stroke="#ef5350" stroke-width="1.05"/><rect x="452.18" y="314.2" width="2.7" height="20.0" fill="#ef5350"/>
<path d="M457.07,311.3V337.0" stroke="#0c9684" stroke-width="1.05"/><rect x="455.72" y="320.5" width="2.7" height="14.1" fill="#0c9684"/>
<path d="M460.62,289.4V321.2" stroke="#0c9684" stroke-width="1.05"/><rect x="459.27" y="307.1" width="2.7" height="13.7" fill="#0c9684"/>
<path d="M464.16,284.2V316.6" stroke="#ef5350" stroke-width="1.05"/><rect x="462.81" y="306.5" width="2.7" height="8.2" fill="#ef5350"/>
<path d="M467.71,277.9V314.2" stroke="#0c9684" stroke-width="1.05"/><rect x="466.36" y="278.9" width="2.7" height="29.5" fill="#0c9684"/>
<path d="M471.25,272.2V294.1" stroke="#ef5350" stroke-width="1.05"/><rect x="469.90" y="278.9" width="2.7" height="14.3" fill="#ef5350"/>
<path d="M474.79,281.7V318.0" stroke="#ef5350" stroke-width="1.05"/><rect x="473.44" y="293.2" width="2.7" height="10.3" fill="#ef5350"/>
<path d="M478.34,263.3V306.0" stroke="#0c9684" stroke-width="1.05"/><rect x="476.99" y="286.3" width="2.7" height="19.3" fill="#0c9684"/>
<path d="M481.88,264.0V317.9" stroke="#ef5350" stroke-width="1.05"/><rect x="480.53" y="288.9" width="2.7" height="23.8" fill="#ef5350"/>
<path d="M485.43,297.4V329.8" stroke="#0c9684" stroke-width="1.05"/><rect x="484.08" y="305.0" width="2.7" height="7.7" fill="#0c9684"/>
<path d="M488.97,294.1V327.0" stroke="#0c9684" stroke-width="1.05"/><rect x="487.62" y="303.2" width="2.7" height="1.5" fill="#0c9684"/>
<path d="M492.52,278.0V306.9" stroke="#0c9684" stroke-width="1.05"/><rect x="491.17" y="284.0" width="2.7" height="17.8" fill="#0c9684"/>
<path d="M496.06,276.5V310.2" stroke="#ef5350" stroke-width="1.05"/><rect x="494.71" y="285.4" width="2.7" height="5.6" fill="#ef5350"/>
<path d="M499.61,79.7V313.2" stroke="#0c9684" stroke-width="1.05"/><rect x="498.26" y="264.0" width="2.7" height="22.8" fill="#0c9684"/>
<path d="M503.15,248.5V287.4" stroke="#ef5350" stroke-width="1.05"/><rect x="501.80" y="264.0" width="2.7" height="20.7" fill="#ef5350"/>
<path d="M506.69,271.3V309.5" stroke="#ef5350" stroke-width="1.05"/><rect x="505.34" y="283.6" width="2.7" height="18.6" fill="#ef5350"/>
<path d="M510.24,262.0V320.0" stroke="#0c9684" stroke-width="1.05"/><rect x="508.89" y="291.9" width="2.7" height="10.6" fill="#0c9684"/>
<path d="M513.78,270.0V335.2" stroke="#ef5350" stroke-width="1.05"/><rect x="512.43" y="291.9" width="2.7" height="40.4" fill="#ef5350"/>
<path d="M517.33,264.9V362.8" stroke="#0c9684" stroke-width="1.05"/><rect x="515.98" y="321.7" width="2.7" height="10.1" fill="#0c9684"/>
<path d="M520.87,306.1V357.4" stroke="#ef5350" stroke-width="1.05"/><rect x="519.52" y="322.7" width="2.7" height="9.1" fill="#ef5350"/>
<path d="M524.42,284.0V386.6" stroke="#ef5350" stroke-width="1.05"/><rect x="523.07" y="334.3" width="2.7" height="8.5" fill="#ef5350"/>
<path d="M527.96,209.4V386.6" stroke="#0c9684" stroke-width="1.05"/><rect x="526.61" y="340.3" width="2.7" height="2.1" fill="#0c9684"/>
<path d="M531.51,261.3V365.8" stroke="#0c9684" stroke-width="1.05"/><rect x="530.16" y="305.0" width="2.7" height="35.8" fill="#0c9684"/>
<path d="M535.05,246.2V359.0" stroke="#ef5350" stroke-width="1.05"/><rect x="533.70" y="304.0" width="2.7" height="30.2" fill="#ef5350"/>
<path d="M538.60,305.2V378.0" stroke="#ef5350" stroke-width="1.05"/><rect x="537.25" y="333.2" width="2.7" height="15.5" fill="#ef5350"/>
<path d="M542.14,300.2V360.9" stroke="#0c9684" stroke-width="1.05"/><rect x="540.79" y="321.7" width="2.7" height="27.3" fill="#0c9684"/>
<path d="M545.68,288.0V330.5" stroke="#0c9684" stroke-width="1.05"/><rect x="544.33" y="299.0" width="2.7" height="23.5" fill="#0c9684"/>
<path d="M549.23,253.0V314.4" stroke="#0c9684" stroke-width="1.05"/><rect x="547.88" y="270.0" width="2.7" height="30.0" fill="#0c9684"/>
<path d="M552.77,254.2V289.0" stroke="#ef5350" stroke-width="1.05"/><rect x="551.42" y="269.8" width="2.7" height="6.8" fill="#ef5350"/>
<path d="M556.32,217.0V298.7" stroke="#0c9684" stroke-width="1.05"/><rect x="554.97" y="247.0" width="2.7" height="30.0" fill="#0c9684"/>
<path d="M559.86,204.1V247.0" stroke="#0c9684" stroke-width="1.05"/><rect x="558.51" y="221.3" width="2.7" height="21.4" fill="#0c9684"/>
<path d="M563.41,206.0V247.5" stroke="#0c9684" stroke-width="1.05"/><rect x="562.06" y="219.4" width="2.7" height="1.5" fill="#0c9684"/>
<path d="M566.95,207.8V235.1" stroke="#ef5350" stroke-width="1.05"/><rect x="565.60" y="219.3" width="2.7" height="1.5" fill="#ef5350"/>
<path d="M570.50,218.9V281.8" stroke="#ef5350" stroke-width="1.05"/><rect x="569.15" y="219.3" width="2.7" height="53.4" fill="#ef5350"/>
<path d="M574.04,263.7V290.4" stroke="#ef5350" stroke-width="1.05"/><rect x="572.69" y="271.3" width="2.7" height="1.0" fill="#ef5350"/>
<path d="M577.58,253.2V282.8" stroke="#ef5350" stroke-width="1.05"/><rect x="576.23" y="267.5" width="2.7" height="4.8" fill="#ef5350"/>
<path d="M581.13,252.3V301.8" stroke="#ef5350" stroke-width="1.05"/><rect x="579.78" y="272.7" width="2.7" height="24.0" fill="#ef5350"/>
<path d="M584.67,279.0V302.4" stroke="#ef5350" stroke-width="1.05"/><rect x="583.32" y="294.2" width="2.7" height="2.9" fill="#ef5350"/>
<path d="M588.22,274.2V299.0" stroke="#0c9684" stroke-width="1.05"/><rect x="586.87" y="286.0" width="2.7" height="7.3" fill="#0c9684"/>
<path d="M591.76,247.5V294.2" stroke="#0c9684" stroke-width="1.05"/><rect x="590.41" y="264.3" width="2.7" height="22.9" fill="#0c9684"/>
<path d="M595.31,218.9V265.6" stroke="#0c9684" stroke-width="1.05"/><rect x="593.96" y="232.2" width="2.7" height="32.8" fill="#0c9684"/>
<path d="M598.85,212.2V242.7" stroke="#ef5350" stroke-width="1.05"/><rect x="597.50" y="229.4" width="2.7" height="12.4" fill="#ef5350"/>
<path d="M602.40,232.2V264.6" stroke="#ef5350" stroke-width="1.05"/><rect x="601.05" y="242.7" width="2.7" height="11.5" fill="#ef5350"/>
<path d="M605.94,246.5V295.5" stroke="#ef5350" stroke-width="1.05"/><rect x="604.59" y="254.2" width="2.7" height="19.0" fill="#ef5350"/>
<path d="M609.49,248.4V285.2" stroke="#ef5350" stroke-width="1.05"/><rect x="608.13" y="272.3" width="2.7" height="1.5" fill="#ef5350"/>
<path d="M613.03,248.4V289.1" stroke="#0c9684" stroke-width="1.05"/><rect x="611.68" y="258.5" width="2.7" height="15.3" fill="#0c9684"/>
<path d="M616.57,237.0V293.3" stroke="#ef5350" stroke-width="1.05"/><rect x="615.22" y="260.5" width="2.7" height="26.7" fill="#ef5350"/>
<path d="M620.12,269.4V288.5" stroke="#0c9684" stroke-width="1.05"/><rect x="618.77" y="283.7" width="2.7" height="3.8" fill="#0c9684"/>
<path d="M623.66,276.5V295.2" stroke="#0c9684" stroke-width="1.05"/><rect x="622.31" y="279.0" width="2.7" height="5.7" fill="#0c9684"/>
<path d="M627.21,256.1V292.3" stroke="#ef5350" stroke-width="1.05"/><rect x="625.86" y="280.0" width="2.7" height="9.4" fill="#ef5350"/>
<path d="M630.75,287.4V324.3" stroke="#ef5350" stroke-width="1.05"/><rect x="629.40" y="288.8" width="2.7" height="32.0" fill="#ef5350"/>
<path d="M634.30,277.2V326.2" stroke="#0c9684" stroke-width="1.05"/><rect x="632.95" y="278.5" width="2.7" height="42.7" fill="#0c9684"/>
<path d="M637.84,258.3V283.7" stroke="#0c9684" stroke-width="1.05"/><rect x="636.49" y="274.1" width="2.7" height="5.7" fill="#0c9684"/>
<path d="M641.39,256.0V285.6" stroke="#ef5350" stroke-width="1.05"/><rect x="640.04" y="275.1" width="2.7" height="6.6" fill="#ef5350"/>
<path d="M644.93,274.1V291.9" stroke="#0c9684" stroke-width="1.05"/><rect x="643.58" y="280.4" width="2.7" height="1.2" fill="#0c9684"/>
<path d="M648.47,275.1V302.7" stroke="#ef5350" stroke-width="1.05"/><rect x="647.12" y="278.5" width="2.7" height="7.1" fill="#ef5350"/>
<path d="M652.02,280.4V325.6" stroke="#ef5350" stroke-width="1.05"/><rect x="650.67" y="284.6" width="2.7" height="39.1" fill="#ef5350"/>
<path d="M655.56,318.0V342.8" stroke="#ef5350" stroke-width="1.05"/><rect x="654.21" y="323.1" width="2.7" height="13.0" fill="#ef5350"/>
<path d="M659.11,314.7V346.6" stroke="#0c9684" stroke-width="1.05"/><rect x="657.76" y="325.6" width="2.7" height="10.1" fill="#0c9684"/>
<path d="M662.65,314.2V351.3" stroke="#ef5350" stroke-width="1.05"/><rect x="661.30" y="325.6" width="2.7" height="19.6" fill="#ef5350"/>
<path d="M666.20,298.3V350.4" stroke="#0c9684" stroke-width="1.05"/><rect x="664.85" y="306.5" width="2.7" height="38.7" fill="#0c9684"/>
<path d="M669.74,294.1V314.7" stroke="#ef5350" stroke-width="1.05"/><rect x="668.39" y="306.0" width="2.7" height="6.8" fill="#ef5350"/>
<path d="M673.29,295.1V316.6" stroke="#0c9684" stroke-width="1.05"/><rect x="671.94" y="307.1" width="2.7" height="5.7" fill="#0c9684"/>
<path d="M676.83,304.6V341.4" stroke="#ef5350" stroke-width="1.05"/><rect x="675.48" y="306.0" width="2.7" height="32.0" fill="#ef5350"/>
<path d="M680.38,333.8V360.6" stroke="#ef5350" stroke-width="1.05"/><rect x="679.02" y="337.0" width="2.7" height="7.7" fill="#ef5350"/>
<path d="M683.92,340.5V388.4" stroke="#ef5350" stroke-width="1.05"/><rect x="682.57" y="344.6" width="2.7" height="38.1" fill="#ef5350"/>
<path d="M687.46,366.5V387.5" stroke="#0c9684" stroke-width="1.05"/><rect x="686.11" y="375.1" width="2.7" height="7.6" fill="#0c9684"/>
<path d="M691.01,364.6V383.7" stroke="#ef5350" stroke-width="1.05"/><rect x="689.66" y="375.1" width="2.7" height="2.5" fill="#ef5350"/>
<path d="M694.55,368.4V382.7" stroke="#0c9684" stroke-width="1.05"/><rect x="693.20" y="375.1" width="2.7" height="2.5" fill="#0c9684"/>
<path d="M698.10,369.4V400.8" stroke="#ef5350" stroke-width="1.05"/><rect x="696.75" y="375.1" width="2.7" height="10.9" fill="#ef5350"/>
<path d="M701.64,380.8V409.4" stroke="#ef5350" stroke-width="1.05"/><rect x="700.29" y="385.6" width="2.7" height="15.2" fill="#ef5350"/>
<path d="M705.19,386.5V405.6" stroke="#0c9684" stroke-width="1.05"/><rect x="703.84" y="389.8" width="2.7" height="10.1" fill="#0c9684"/>
<path d="M708.73,371.9V406.6" stroke="#0c9684" stroke-width="1.05"/><rect x="707.38" y="387.9" width="2.7" height="4.9" fill="#0c9684"/>
<path d="M712.28,380.8V401.8" stroke="#ef5350" stroke-width="1.05"/><rect x="710.93" y="386.5" width="2.7" height="14.3" fill="#ef5350"/>
<path d="M715.82,370.3V419.5" stroke="#ef5350" stroke-width="1.05"/><rect x="714.47" y="398.0" width="2.7" height="21.0" fill="#ef5350"/>
<path d="M719.36,413.2V442.0" stroke="#ef5350" stroke-width="1.05"/><rect x="718.01" y="417.9" width="2.7" height="21.0" fill="#ef5350"/>
<path d="M722.91,436.8V453.5" stroke="#ef5350" stroke-width="1.05"/><rect x="721.56" y="438.7" width="2.7" height="13.3" fill="#ef5350"/>
<path d="M726.45,439.4V464.2" stroke="#ef5350" stroke-width="1.05"/><rect x="725.10" y="451.8" width="2.7" height="2.8" fill="#ef5350"/>
<path d="M730.00,447.6V471.2" stroke="#ef5350" stroke-width="1.05"/><rect x="728.65" y="453.7" width="2.7" height="12.4" fill="#ef5350"/>
<path d="M733.54,437.5V469.9" stroke="#0c9684" stroke-width="1.05"/><rect x="732.19" y="441.3" width="2.7" height="25.3" fill="#0c9684"/>
<path d="M737.09,436.1V459.4" stroke="#ef5350" stroke-width="1.05"/><rect x="735.74" y="442.2" width="2.7" height="6.7" fill="#ef5350"/>
<path d="M740.63,427.9V452.1" stroke="#0c9684" stroke-width="1.05"/><rect x="739.28" y="433.1" width="2.7" height="16.4" fill="#0c9684"/>
<path d="M744.18,427.9V464.7" stroke="#ef5350" stroke-width="1.05"/><rect x="742.83" y="433.1" width="2.7" height="24.8" fill="#ef5350"/>
<path d="M747.72,445.1V467.4" stroke="#0c9684" stroke-width="1.05"/><rect x="746.37" y="453.3" width="2.7" height="7.0" fill="#0c9684"/>
<path d="M751.26,434.2V461.7" stroke="#0c9684" stroke-width="1.05"/><rect x="749.91" y="451.4" width="2.7" height="2.3" fill="#0c9684"/>
<path d="M754.81,448.9V470.8" stroke="#ef5350" stroke-width="1.05"/><rect x="753.46" y="453.3" width="2.7" height="6.5" fill="#ef5350"/>
<path d="M758.35,447.6V486.5" stroke="#ef5350" stroke-width="1.05"/><rect x="757.00" y="459.4" width="2.7" height="17.5" fill="#ef5350"/>
<path d="M761.90,466.1V499.1" stroke="#ef5350" stroke-width="1.05"/><rect x="760.55" y="476.9" width="2.7" height="11.1" fill="#ef5350"/>
<path d="M765.44,473.1V505.5" stroke="#ef5350" stroke-width="1.05"/><rect x="764.09" y="487.6" width="2.7" height="6.1" fill="#ef5350"/>
<path d="M768.99,475.6V508.0" stroke="#0c9684" stroke-width="1.05"/><rect x="767.64" y="487.0" width="2.7" height="5.8" fill="#0c9684"/>
<path d="M772.53,454.1V490.9" stroke="#0c9684" stroke-width="1.05"/><rect x="771.18" y="469.3" width="2.7" height="18.7" fill="#0c9684"/>
<path d="M776.08,465.1V484.2" stroke="#ef5350" stroke-width="1.05"/><rect x="774.73" y="470.5" width="2.7" height="10.3" fill="#ef5350"/>
<path d="M779.62,474.3V499.4" stroke="#ef5350" stroke-width="1.05"/><rect x="778.27" y="480.8" width="2.7" height="16.4" fill="#ef5350"/>
<path d="M783.17,489.5V510.9" stroke="#ef5350" stroke-width="1.05"/><rect x="781.82" y="497.2" width="2.7" height="9.9" fill="#ef5350"/>
<path d="M786.71,493.3V509.0" stroke="#0c9684" stroke-width="1.05"/><rect x="785.36" y="497.5" width="2.7" height="10.5" fill="#0c9684"/>
<path d="M790.25,483.8V506.7" stroke="#0c9684" stroke-width="1.05"/><rect x="788.90" y="492.2" width="2.7" height="6.3" fill="#0c9684"/>
<path d="M793.80,488.4V506.7" stroke="#ef5350" stroke-width="1.05"/><rect x="792.45" y="491.4" width="2.7" height="11.5" fill="#ef5350"/>
</g>
<g stroke="#4f5360" stroke-width="1.25" fill="none">
<line x1="3.4" y1="24.5" x2="891" y2="24.5"/>
<line x1="4.0" y1="24" x2="4.0" y2="602.6" stroke="#9294a0" stroke-width="1.6"/>
<line x1="890.5" y1="24" x2="890.5" y2="602.5"/>
<line x1="3.3" y1="601.9" x2="891" y2="601.9" stroke="#9294a0" stroke-width="1.6"/>
<line x1="830.8" y1="24" x2="830.8" y2="602" stroke="#6d707c" stroke-width="1.4"/>
<line x1="4" y1="575.5" x2="891" y2="575.5"/>
<line x1="21.10" y1="576" x2="21.10" y2="579.3" stroke-width="1.1"/>
<line x1="95.53" y1="576" x2="95.53" y2="579.3" stroke-width="1.1"/>
<line x1="177.06" y1="576" x2="177.06" y2="579.3" stroke-width="1.1"/>
<line x1="251.49" y1="576" x2="251.49" y2="579.3" stroke-width="1.1"/>
<line x1="329.47" y1="576" x2="329.47" y2="579.3" stroke-width="1.1"/>
<line x1="410.99" y1="576" x2="410.99" y2="579.3" stroke-width="1.1"/>
<line x1="485.43" y1="576" x2="485.43" y2="579.3" stroke-width="1.1"/>
<line x1="559.86" y1="576" x2="559.86" y2="579.3" stroke-width="1.1"/>
<line x1="637.84" y1="576" x2="637.84" y2="579.3" stroke-width="1.1"/>
<line x1="712.28" y1="576" x2="712.28" y2="579.3" stroke-width="1.1"/>
<line x1="790.25" y1="576" x2="790.25" y2="579.3" stroke-width="1.1"/>
<line x1="831" y1="51.10" x2="835" y2="51.10" stroke-width="1.1"/>
<line x1="831" y1="83.04" x2="835" y2="83.04" stroke-width="1.1"/>
<line x1="831" y1="114.98" x2="835" y2="114.98" stroke-width="1.1"/>
<line x1="831" y1="146.92" x2="835" y2="146.92" stroke-width="1.1"/>
<line x1="831" y1="178.86" x2="835" y2="178.86" stroke-width="1.1"/>
<line x1="831" y1="210.80" x2="835" y2="210.80" stroke-width="1.1"/>
<line x1="831" y1="242.74" x2="835" y2="242.74" stroke-width="1.1"/>
<line x1="831" y1="274.68" x2="835" y2="274.68" stroke-width="1.1"/>
<line x1="831" y1="306.62" x2="835" y2="306.62" stroke-width="1.1"/>
<line x1="831" y1="338.56" x2="835" y2="338.56" stroke-width="1.1"/>
<line x1="831" y1="370.50" x2="835" y2="370.50" stroke-width="1.1"/>
<line x1="831" y1="402.44" x2="835" y2="402.44" stroke-width="1.1"/>
<line x1="831" y1="434.38" x2="835" y2="434.38" stroke-width="1.1"/>
<line x1="831" y1="466.32" x2="835" y2="466.32" stroke-width="1.1"/>
<line x1="831" y1="498.26" x2="835" y2="498.26" stroke-width="1.1"/>
<line x1="831" y1="530.20" x2="835" y2="530.20" stroke-width="1.1"/>
<line x1="831" y1="562.14" x2="835" y2="562.14" stroke-width="1.1"/>
</g>
<g font-size="11.6" fill="#50535e">
<text x="838.7" y="55.2" textLength="43.2" lengthAdjust="spacingAndGlyphs">2.200000</text>
<text x="838.7" y="87.1" textLength="43.2" lengthAdjust="spacingAndGlyphs">2.180000</text>
<text x="838.7" y="119.1" textLength="43.2" lengthAdjust="spacingAndGlyphs">2.160000</text>
<text x="838.7" y="151.0" textLength="43.2" lengthAdjust="spacingAndGlyphs">2.140000</text>
<text x="838.7" y="183.0" textLength="43.2" lengthAdjust="spacingAndGlyphs">2.120000</text>
<text x="838.7" y="214.9" textLength="43.2" lengthAdjust="spacingAndGlyphs">2.100000</text>
<text x="838.7" y="246.8" textLength="43.2" lengthAdjust="spacingAndGlyphs">2.080000</text>
<text x="838.7" y="278.8" textLength="43.2" lengthAdjust="spacingAndGlyphs">2.060000</text>
<text x="838.7" y="310.7" textLength="43.2" lengthAdjust="spacingAndGlyphs">2.040000</text>
<text x="838.7" y="342.7" textLength="43.2" lengthAdjust="spacingAndGlyphs">2.020000</text>
<text x="838.7" y="374.6" textLength="43.2" lengthAdjust="spacingAndGlyphs">2.000000</text>
<text x="838.7" y="406.5" textLength="43.2" lengthAdjust="spacingAndGlyphs">1.980000</text>
<text x="838.7" y="438.5" textLength="43.2" lengthAdjust="spacingAndGlyphs">1.960000</text>
<text x="838.7" y="470.4" textLength="43.2" lengthAdjust="spacingAndGlyphs">1.940000</text>
<text x="838.7" y="502.4" textLength="43.2" lengthAdjust="spacingAndGlyphs">1.920000</text>
<text x="838.7" y="534.3" textLength="43.2" lengthAdjust="spacingAndGlyphs">1.900000</text>
<text x="838.7" y="566.2" textLength="43.2" lengthAdjust="spacingAndGlyphs">1.880000</text>
</g>
<g font-size="11.6" fill="#50535e" text-anchor="middle">
<text transform="translate(21.1,593.5) scale(0.84,1)">Sep</text>
<text transform="translate(95.5,593.5) scale(0.84,1)">Oct</text>
<text transform="translate(177.1,593.5) scale(0.84,1)">Nov</text>
<text transform="translate(251.5,593.5) scale(0.84,1)">Dec</text>
<text transform="translate(329.5,593.5) scale(0.84,1)" font-weight="bold" fill="#3a3d48">2020</text>
<text transform="translate(411.0,593.5) scale(0.84,1)">Feb</text>
<text transform="translate(485.4,593.5) scale(0.84,1)">3</text>
<text transform="translate(559.9,593.5) scale(0.84,1)">Apr</text>
<text transform="translate(637.8,593.5) scale(0.84,1)">May</text>
<text transform="translate(712.3,593.5) scale(0.84,1)">Jun</text>
<text transform="translate(790.3,593.5) scale(0.84,1)">Jul</text>
</g>
<rect x="831.4" y="494" width="59.6" height="16.8" fill="#ef5350"/>
<line x1="831.4" y1="502.5" x2="835" y2="502.5" stroke="#fff" stroke-width="1.1"/>
<text x="838.7" y="506.6" font-size="11.6" font-weight="bold" fill="#fff" textLength="43.4" lengthAdjust="spacingAndGlyphs">1.917560</text>
<circle cx="860.2" cy="588.9" r="8.9" fill="#eef0f5"/>
<text transform="translate(860.2,592.9) scale(0.9,1)" font-size="11.6" fill="#50535e" text-anchor="middle">A</text>
<g font-size="12" fill="#555">
<text x="11.5" y="43.6" font-weight="bold" textLength="231.5" lengthAdjust="spacingAndGlyphs">British Pound / New Zealand Dollar, 1D, IDC</text>
<text x="11.5" y="59" textLength="72.5" lengthAdjust="spacingAndGlyphs">MA (55, close)</text>
<text x="11.5" y="74.7" textLength="78.5" lengthAdjust="spacingAndGlyphs">MA (200, close)</text>
<text x="11.5" y="90.1" textLength="85.5" lengthAdjust="spacingAndGlyphs">MA (20, close, 0)</text>
</g>
<circle cx="25.2" cy="554.3" r="14.6" fill="#fff" stroke="#e4e4e4" stroke-width="1"/>
<g transform="translate(25.5,554.2) scale(0.82)"><g fill="#3a9be8"><circle cx="-8.1" cy="2.9" r="3.5"/><circle cx="-1.2" cy="-0.9" r="5.5"/><circle cx="6.4" cy="1" r="5.4"/><rect x="-8.1" y="0" width="14.5" height="6.4"/></g><path d="M-11.2,5.2 L-3.2,-1.6 L3.2,3.9 L8.6,-1.6" fill="none" stroke="#fff" stroke-width="1.7" stroke-linejoin="round"/><circle cx="3.2" cy="3.9" r="1.5" fill="#fff"/></g>
<g transform="translate(15.1,618.2) scale(1.0)"><g fill="#3a9be8"><circle cx="-8.1" cy="2.9" r="3.5"/><circle cx="-1.2" cy="-0.9" r="5.5"/><circle cx="6.4" cy="1" r="5.4"/><rect x="-8.1" y="0" width="14.5" height="6.4"/></g><path d="M-11.2,5.2 L-3.2,-1.6 L3.2,3.9 L8.6,-1.6" fill="none" stroke="#fff" stroke-width="1.7" stroke-linejoin="round"/><circle cx="3.2" cy="3.9" r="1.5" fill="#fff"/></g>
<text x="29.4" y="622" font-size="11.6" fill="#333" textLength="63.5" lengthAdjust="spacingAndGlyphs">TradingView</text>
</svg></body></html>
